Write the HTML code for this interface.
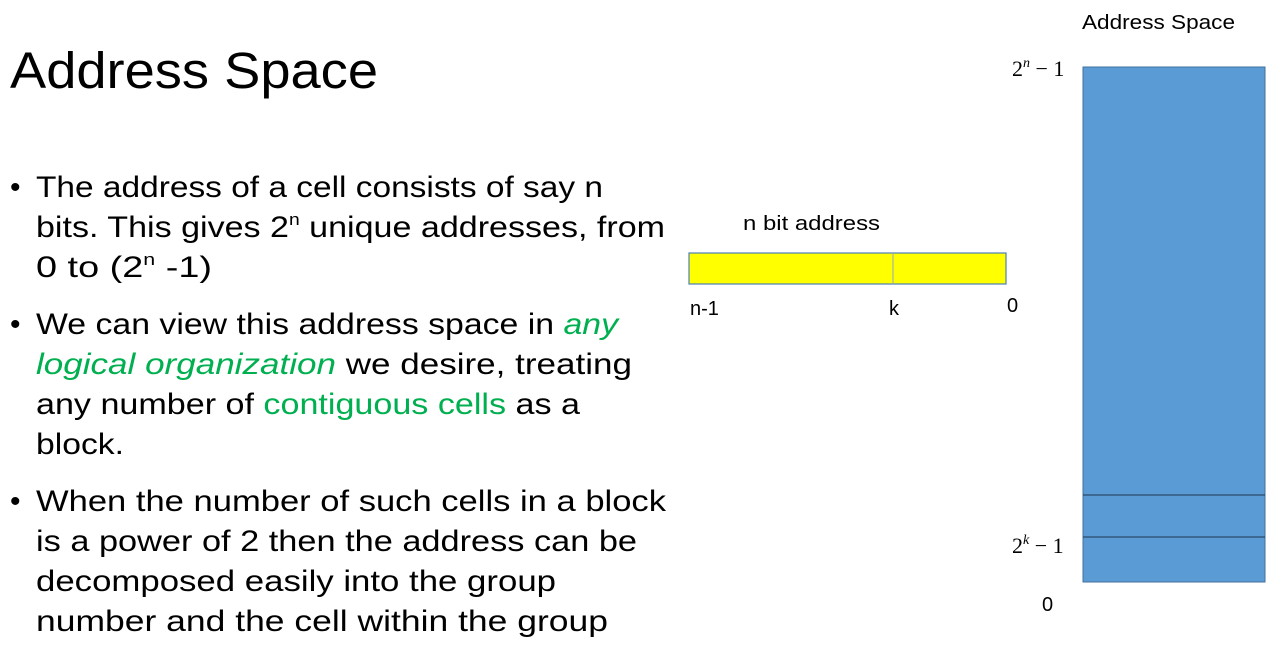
<!DOCTYPE html>
<html><head><meta charset="utf-8"><style>
html,body{margin:0;padding:0;background:#fff;width:1269px;height:671px;overflow:hidden}
svg{display:block}
text{font-family:"Liberation Sans",sans-serif;fill:#000}
text.s{font-family:"Liberation Serif",serif}
.b{font-size:30px}
.g{fill:#00b050}
</style></head><body>
<svg width="1269" height="671" viewBox="0 0 1269 671">
<text x="10" y="88" font-size="51" textLength="368" lengthAdjust="spacingAndGlyphs">Address Space</text>
<g class="b">
<text x="10" y="197">•</text>
<text x="36" y="197" textLength="567" lengthAdjust="spacingAndGlyphs">The address of a cell consists of say n</text>
<text x="36" y="237" textLength="629" lengthAdjust="spacingAndGlyphs">bits. This gives 2<tspan font-size="17" dy="-12">n</tspan><tspan dy="12"> unique addresses, from</tspan></text>
<text x="36" y="277" textLength="176" lengthAdjust="spacingAndGlyphs">0 to (2<tspan font-size="17" dy="-12">n</tspan><tspan dy="12"> -1)</tspan></text>
<text x="10" y="334">•</text>
<text x="36" y="334" textLength="582" lengthAdjust="spacingAndGlyphs">We can view this address space in <tspan class="g" font-style="italic">any</tspan></text>
<text x="36" y="374" textLength="596" lengthAdjust="spacingAndGlyphs"><tspan class="g" font-style="italic">logical organization</tspan> we desire, treating</text>
<text x="36" y="414" textLength="544" lengthAdjust="spacingAndGlyphs">any number of <tspan class="g">contiguous cells</tspan> as a</text>
<text x="36" y="454" textLength="88" lengthAdjust="spacingAndGlyphs">block.</text>
<text x="10" y="511">•</text>
<text x="36" y="511" textLength="630" lengthAdjust="spacingAndGlyphs">When the number of such cells in a block</text>
<text x="36" y="551" textLength="601" lengthAdjust="spacingAndGlyphs">is a power of 2 then the address can be</text>
<text x="36" y="591" textLength="520" lengthAdjust="spacingAndGlyphs">decomposed easily into the group</text>
<text x="36" y="631" textLength="572" lengthAdjust="spacingAndGlyphs">number and the cell within the group</text>
</g>
<text x="743" y="230" font-size="20" textLength="137" lengthAdjust="spacingAndGlyphs">n bit address</text>
<rect x="689" y="253" width="317" height="31" fill="#ffff00" stroke="#4a7ebb" stroke-width="1.2"/>
<line x1="893" y1="253" x2="893" y2="284" stroke="#8fa9c8" stroke-width="1"/>
<text x="690" y="315" font-size="20">n-1</text>
<text x="889" y="315" font-size="20">k</text>
<text x="1007" y="312" font-size="20">0</text>
<text x="1082" y="29" font-size="20" textLength="153" lengthAdjust="spacingAndGlyphs">Address Space</text>
<rect x="1083" y="67" width="182" height="515" fill="#5b9bd5" stroke="#41719c" stroke-width="1"/>
<line x1="1083" y1="495" x2="1265" y2="495" stroke="#1f3550" stroke-width="1"/>
<line x1="1083" y1="537" x2="1265" y2="537" stroke="#1f3550" stroke-width="1"/>
<text class="s" x="1012" y="76" font-size="22">2<tspan font-size="14" dy="-9" font-style="italic">n</tspan><tspan dy="9"> − 1</tspan></text>
<text class="s" x="1012" y="553" font-size="22">2<tspan font-size="14" dy="-9" font-style="italic">k</tspan><tspan dy="9"> − 1</tspan></text>
<text x="1042" y="611" font-size="20">0</text>
</svg>
</body></html>
